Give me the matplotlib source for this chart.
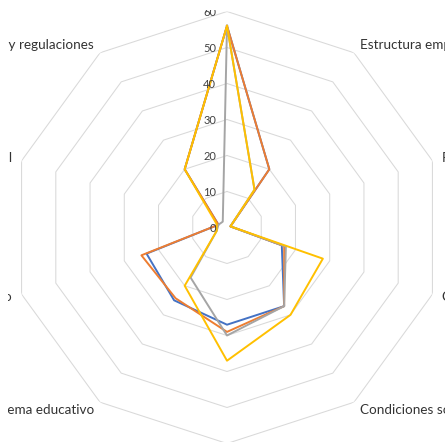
import numpy as np
import matplotlib.pyplot as plt
from matplotlib.patches import Rectangle

# ejes del radar (sentido horario desde arriba)
categorias = ["Financiamiento", "Estructura empresarial", "Políticas gubernamentales",
              "Cultura emprendedora", "Condiciones sociales", "Infraestructura",
              "Sistema educativo", "Acceso al mercado", "Apoyo institucional",
              "Leyes y regulaciones"]

serie_azul = [56, 20, 1, 16, 27, 27, 25, 23.5, 2.5, 20]
serie_naranja = [56, 20, 1, 16.7, 27, 29, 24.3, 25, 2.5, 20]
serie_gris = [56, 13, 1, 17.2, 27, 30, 17.2, 3, 2.5, 2]
serie_amarilla = [56, 13, 1, 28, 30, 37, 20, 3, 3, 20]

escala = [0, 10, 20, 30, 40, 50, 60]

colores = ['#4472C4', '#ED7D31', '#A5A5A5', '#FFC000']
series = [serie_azul, serie_naranja, serie_gris, serie_amarilla]

plt.rcParams['font.family'] = ['Lato', 'DejaVu Sans']

n = len(categorias)
ang = np.linspace(0, 2 * np.pi, n, endpoint=False)
ang_c = np.append(ang, ang[0])

fig = plt.figure(figsize=(4.45, 4.42), dpi=100)
ax = fig.add_axes([11 / 445, -1.5 / 442, 432 / 445, 432 / 442], polar=True)
ax.set_theta_zero_location('N')
ax.set_theta_direction(-1)
ax.set_ylim(0, 60)
ax.axis('off')

# anillos poligonales
for v in escala[1:]:
    ax.plot(ang_c, [v] * (n + 1), color='#D9D9D9', lw=0.75, zorder=1)

# series
for s, c in zip(series, colores):
    ax.plot(ang_c, s + [s[0]], color=c, lw=1.4, zorder=3)

# etiquetas de la escala
for v in escala:
    ax.annotate(str(v), xy=(0, v), xytext=(-11, -1), textcoords='offset pixels',
                ha='right', va='center', fontsize=8, color='#404040',
                annotation_clip=False, zorder=4)

# etiquetas de categorias
for a, txt in zip(ang, categorias):
    dx, dy = 10 * np.sin(a), 10 * np.cos(a)
    if np.sin(a) > 0.1:
        ha = 'left'
    elif np.sin(a) < -0.1:
        ha = 'right'
    else:
        ha = 'center'
    if abs(np.sin(a)) > 0.1:
        va = 'center'
    else:
        va = 'bottom' if np.cos(a) > 0 else 'top'
    ax.annotate(txt, xy=(a, 60), xytext=(dx, dy), textcoords='offset pixels',
                ha=ha, va=va, fontsize=9.7, color='#333333', annotation_clip=False)

# el grafico original esta recortado arriba y a la izquierda
fig.add_artist(Rectangle((0, 0), 8 / 445, 1, transform=fig.transFigure,
                         facecolor='white', edgecolor='none', zorder=10))
fig.add_artist(Rectangle((0, 1 - 10 / 442), 1, 10 / 442, transform=fig.transFigure,
                         facecolor='white', edgecolor='none', zorder=10))

fig.savefig('out.png', dpi=100, facecolor='white')
